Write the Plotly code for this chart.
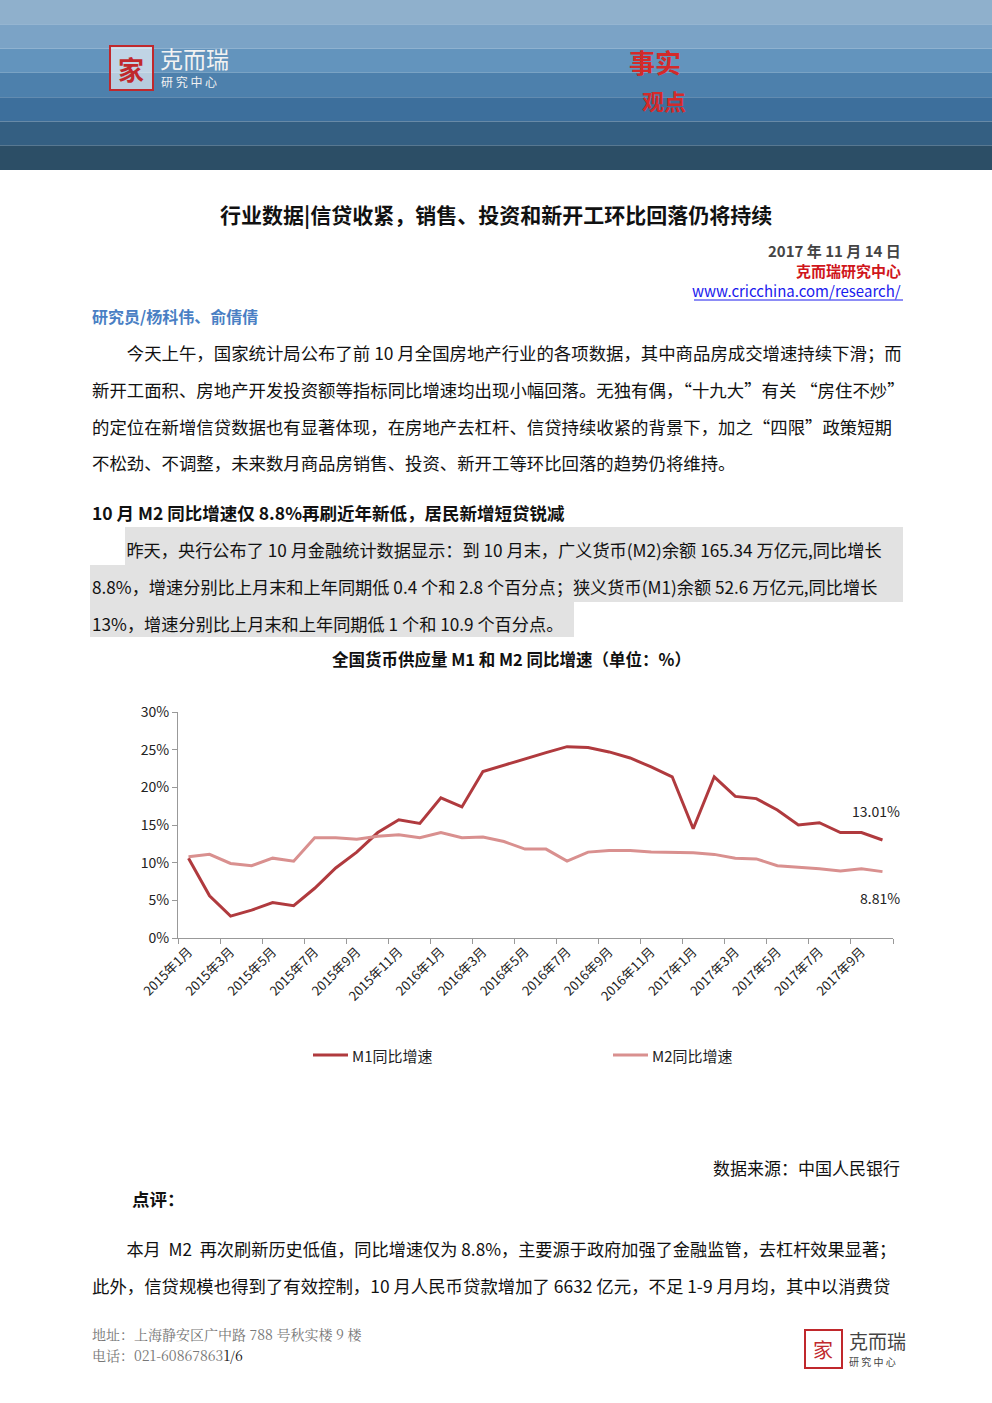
import plotly.graph_objects as go

W, H = 992, 1403

months = [f"{y}年{m}月" for y in (2015, 2016, 2017) for m in range(1, 13)][:34]
m1 = [10.6, 5.6, 2.9, 3.7, 4.7, 4.3, 6.6, 9.3, 11.4, 14.0, 15.7, 15.2,
      18.6, 17.4, 22.1, 22.9, 23.7, 24.6, 25.4, 25.3, 24.7, 23.9, 22.7, 21.4,
      14.5, 21.4, 18.8, 18.5, 17.0, 15.0, 15.3, 14.0, 14.0, 13.01]
m2 = [10.8, 11.1, 9.9, 9.6, 10.6, 10.2, 13.3, 13.3, 13.1, 13.5, 13.7, 13.3,
      14.0, 13.3, 13.4, 12.8, 11.8, 11.8, 10.2, 11.4, 11.6, 11.6, 11.4, 11.3,
      11.3, 11.1, 10.6, 10.5, 9.6, 9.4, 9.2, 8.9, 9.2, 8.81]

FONT = "Noto Sans CJK SC"
def px(x): return x / W
def py(y): return 1 - y / H

idx = list(range(len(months)))
fig = go.Figure()
fig.add_trace(go.Scatter(x=idx, y=m1, mode="lines", name="M1同比增速",
                         line=dict(color="#b03a3e", width=3)))
fig.add_trace(go.Scatter(x=idx, y=m2, mode="lines", name="M2同比增速",
                         line=dict(color="#d9908f", width=3)))

shapes = []
# header banner approximation
bands = ["#8fb0cc", "#7ba3c6", "#6394bd", "#4d80ac", "#3d6f9c", "#345f82", "#2c4e66"]
bh = 170 / len(bands)
for i, c in enumerate(bands):
    shapes.append(dict(type="rect", xref="paper", yref="paper", x0=0, x1=1,
                       y0=py((i + 1) * bh), y1=py(i * bh), fillcolor=c, line_width=0, layer="below"))
shapes.append(dict(type="rect", xref="paper", yref="paper", x0=px(110), x1=px(153),
                   y0=py(90), y1=py(46), line=dict(color="#c0282c", width=2),
                   fillcolor="rgba(255,255,255,0.6)", layer="below"))
# highlighted paragraph
hl = [(125, 903, 527, 565), (90, 903, 565, 602), (90, 574, 602, 637)]
for x0, x1, y0, y1 in hl:
    shapes.append(dict(type="rect", xref="paper", yref="paper", x0=px(x0), x1=px(x1),
                       y0=py(y1), y1=py(y0), fillcolor="#e2e2e2", line_width=0, layer="below"))
# footer logo box
shapes.append(dict(type="rect", xref="paper", yref="paper", x0=px(805), x1=px(842),
                   y0=py(1368), y1=py(1330), line=dict(color="#c0282c", width=2)))
# link underline
shapes.append(dict(type="line", xref="paper", yref="paper", x0=px(694), x1=px(903),
                   y0=py(300), y1=py(300), line=dict(color="#1a1aee", width=1)))
# legend swatches
for x0, c in ((313, "#b03a3e"), (613, "#d9908f")):
    shapes.append(dict(type="line", xref="paper", yref="paper", x0=px(x0), x1=px(x0 + 35),
                       y0=py(1055), y1=py(1055), line=dict(color=c, width=3)))

ann = []
def t(x, y, s, size=17, color="#111", anchor="left", bold=False, family=FONT):
    if bold:
        s = f"<b>{s}</b>"
    ann.append(dict(x=px(x), y=py(y), xref="paper", yref="paper", text=s, showarrow=False,
                    xanchor=anchor, yanchor="middle", font=dict(size=size, color=color, family=family)))

# header logo and badge
t(131, 68, "<b>家</b>", 26, "#c0282c", "center")
t(158, 58, "克而瑞", 23, "#f2f2f2")
t(159, 82, "研 究 中 心", 12, "#f2f2f2")
t(627, 62, "事实", 26, "#d42a2a", bold=True)
t(640, 100, "观点", 22, "#d42a2a", bold=True)

t(496, 214, "行业数据|信贷收紧，销售、投资和新开工环比回落仍将持续", 21, "#111", "center", True)
t(903, 251, "2017 年 11 月 14 日", 15, "#444", "right", True)
t(903, 271, "克而瑞研究中心", 15, "#d0161b", "right", True)
t(903, 291, "www.cricchina.com/research/", 15, "#1a1aee", "right")
t(90, 316, "研究员/杨科伟、俞倩倩", 16, "#4a7fc4", bold=True)

para = ["　　今天上午，国家统计局公布了前 10 月全国房地产行业的各项数据，其中商品房成交增速持续下滑；而",
        "新开工面积、房地产开发投资额等指标同比增速均出现小幅回落。无独有偶，“十九大”有关 “房住不炒”",
        "的定位在新增信贷数据也有显著体现，在房地产去杠杆、信贷持续收紧的背景下，加之“四限”政策短期",
        "不松劲、不调整，未来数月商品房销售、投资、新开工等环比回落的趋势仍将维持。"]
for i, s in enumerate(para):
    t(90, 352 + i * 37, s, 17.4)
t(90, 512, "10 月 M2 同比增速仅 8.8%再刷近年新低，居民新增短贷锐减", 17.5, bold=True)
para2 = ["　　昨天，央行公布了 10 月金融统计数据显示：到 10 月末，广义货币(M2)余额 165.34 万亿元,同比增长",
         "8.8%，增速分别比上月末和上年同期低 0.4 个和 2.8 个百分点；狭义货币(M1)余额 52.6 万亿元,同比增长",
         "13%，增速分别比上月末和上年同期低 1 个和 10.9 个百分点。"]
for i, s in enumerate(para2):
    t(90, 549 + i * 37, s, 17.2)
t(511, 659, "全国货币供应量 M1 和 M2 同比增速（单位：%）", 16.5, "#111", "center", True)
t(350, 1055, "M1同比增速", 15, "#222")
t(650, 1055, "M2同比增速", 15, "#222")
t(902, 1167, "数据来源：中国人民银行", 17, anchor="right")
t(130, 1198, "点评：", 17.5, bold=True)
t(90, 1248, "　　本月  M2  再次刷新历史低值，同比增速仅为 8.8%，主要源于政府加强了金融监管，去杠杆效果显著；", 17.2)
t(90, 1285, "此外，信贷规模也得到了有效控制，10 月人民币贷款增加了 6632 亿元，不足 1-9 月月均，其中以消费贷", 17.4)
t(90, 1334, "地址：上海静安区广中路 788 号秋实楼 9 楼", 14, "#777", family="Noto Serif CJK SC, serif")
t(90, 1355, "电话：021-60867863<span style='color:#111'>1/6</span>", 14, "#777", family="Noto Serif CJK SC, serif")
t(823, 1349, "家", 20, "#c0282c", "center")
t(847, 1340, "克而瑞", 19, "#444")
t(847, 1361, "研 究 中 心", 10, "#444")

# end labels
ann.append(dict(x=idx[-1], y=m1[-1], xref="x", yref="y", text=f"{m1[-1]:.2f}%", showarrow=False,
                xanchor="right", yshift=29, xshift=20, font=dict(size=14, color="#222", family=FONT)))
ann.append(dict(x=idx[-1], y=m2[-1], xref="x", yref="y", text=f"{m2[-1]:.2f}%", showarrow=False,
                xanchor="right", yshift=-26, xshift=20, font=dict(size=14, color="#222", family=FONT)))

fig.update_layout(
    width=W, height=H, autosize=False, margin=dict(l=0, r=0, t=0, b=0, pad=0),
    paper_bgcolor="white", plot_bgcolor="white", showlegend=False,
    font=dict(family=FONT, color="#222"),
    shapes=shapes, annotations=ann,
    xaxis=dict(domain=[px(178), px(893)], range=[-0.5, len(months) - 0.5], automargin=False,
               tickvals=idx[::2], ticktext=months[::2], tickangle=-45, ticks="",
               showline=True, linecolor="#999", linewidth=1, showgrid=False, zeroline=False,
               tickfont=dict(size=13, color="#222"),
               minor=dict(tick0=-0.5, dtick=2, ticks="outside", ticklen=5, tickcolor="#999")),
    yaxis=dict(domain=[py(938), py(712)], range=[0, 30], dtick=5, ticksuffix="%", automargin=False,
               ticks="outside", ticklen=5, tickcolor="#999", showline=True, linecolor="#999",
               showgrid=False, zeroline=False, tickfont=dict(size=14, color="#222")),
)
fig.write_html("out.html", config={"displayModeBar": False},
               post_script="document.body.style.margin='0';document.body.style.overflow='hidden';")
